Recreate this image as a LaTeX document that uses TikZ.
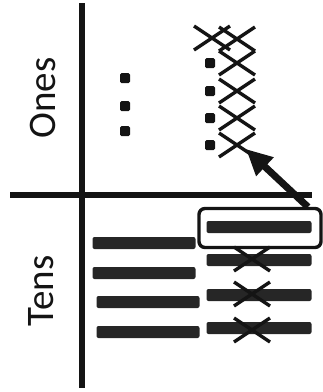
\documentclass[tikz,border=0pt]{standalone}
\usepackage{fontspec}
\setmainfont{Carlito}
\usetikzlibrary{arrows.meta,calc}
\definecolor{ink}{HTML}{141414}
\definecolor{barc}{HTML}{262626}
\tikzset{
  axis/.style={line width=5.5pt, draw=ink},
  dot/.style={rectangle, fill=ink, minimum size=10pt, inner sep=0pt, rounded corners=1.5pt},
  bar/.style={rectangle, fill=barc, minimum height=12pt, inner sep=0pt, rounded corners=2pt},
  xmark/.style={line width=3.4pt, draw=ink},
  label/.style={font=\fontsize{39}{41}\selectfont, rotate=90, text=ink, inner sep=0pt},
}
\newcommand{\cross}[3]{% name, x, y
  \coordinate (#1) at (#2,#3);
  \draw[xmark] ($(#1)+(-18,-12)$) -- ($(#1)+(18,12)$);
  \draw[xmark] ($(#1)+(-18,12)$) -- ($(#1)+(18,-12)$);
}
\begin{document}
\begin{tikzpicture}[x=1pt,y=-1pt]
\useasboundingbox (0,0) rectangle (323,392);
% axes
\coordinate (vt) at (82,3);
\coordinate (vb) at (82,388);
\coordinate (hl) at (10,195);
\coordinate (hr) at (312,195);
\draw[axis] (vt) -- (vb);
\draw[axis] (hl) -- (hr);
% labels
\node[label] (ones) at (43,98) {Ones};
\node[label] (tens) at (41,291) {Tens};
% ones dots left
\node[dot] (l1) at (125,78) {};
\node[dot] (l2) at (125,106) {};
\node[dot] (l3) at (125,131) {};
% ones dots right
\node[dot] (r1) at (210,63) {};
\node[dot] (r2) at (210,91) {};
\node[dot] (r3) at (210,118) {};
\node[dot] (r4) at (210,145) {};
% crosses
\cross{x1}{212}{38}
\cross{x2}{237}{39}
\cross{x3}{237}{63}
\cross{x4}{237}{91}
\cross{x5}{237}{118}
\cross{x6}{237}{145}
% tens bars left
\node[bar, minimum width=103pt] (tl1) at (144,243) {};
\node[bar, minimum width=103pt] (tl2) at (144,273) {};
\node[bar, minimum width=103pt] (tl3) at (148,302) {};
\node[bar, minimum width=103pt] (tl4) at (148,332) {};
% tens bars right
\node[bar, minimum width=105pt] (tr1) at (259,227) {};
\node[bar, minimum width=105pt] (tr2) at (259,260) {};
\node[bar, minimum width=105pt] (tr3) at (259,295) {};
\node[bar, minimum width=105pt] (tr4) at (259,328) {};
% crosses on tens bars
\cross{y2}{252}{259}
\cross{y3}{252}{294}
\cross{y4}{252}{330}
% box around top right bar
\node[draw=ink, line width=3.4pt, rounded corners=6pt, minimum width=122pt, minimum height=39pt, inner sep=0pt] (box) at (260,228) {};
% arrow
\coordinate (tail) at (308,207);
\draw[line width=7pt, draw=ink, -{Triangle[length=26pt,width=24pt]}] (tail) -- ($(x6)+(9,4)$);
\end{tikzpicture}
\end{document}
